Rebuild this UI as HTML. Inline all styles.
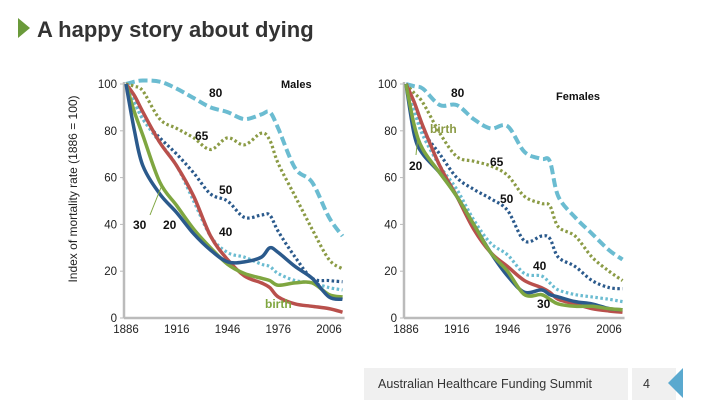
<!DOCTYPE html>
<html><head><meta charset="utf-8"><style>
body{margin:0;width:720px;height:405px;background:#fff;overflow:hidden;font-family:"Liberation Sans",sans-serif;}
svg{position:absolute;left:0;top:0}
</style></head><body>
<svg id="s" width="720" height="405">
<polygon points="18,18 30,28 18,38" fill="#6a9a3a"/>
<text x="37" y="37" font-size="22" font-weight="bold" fill="#333">A happy story about dying</text>
<text transform="translate(77,189) rotate(-90)" text-anchor="middle" font-size="12" fill="#222">Index of mortality rate (1886 = 100)</text>
<rect x="364" y="368" width="264" height="32" fill="#f0f0f0"/>
<text x="378" y="388" font-size="12.5" fill="#333">Australian Healthcare Funding Summit</text>
<rect x="632" y="368" width="44" height="32" fill="#f0f0f0"/>
<text x="643" y="388" font-size="12.5" fill="#333">4</text>
<polygon points="683,368 668,383 683,398" fill="#5aa9cf"/>
<g id="charts"></g>
</svg>
<script>
const years=[1886,1891,1896,1906,1916,1926,1936,1946,1956,1966,1971,1976,1986,1996,2006,2014];
const xTicks=[1886,1916,1946,1976,2006];
const yTicks=[0,20,40,60,80,100];
const m80=[100,101,101.5,101,98,94,90,88,85,87,88,81,64,58,43,35];
const m65=[100,99,97,85,81,77,72,77,74,79,76,66,52,38,25,21];
const m50=[100,93,85,77,70,62,53,50,43,44,44,37,26,17,16,15.5];
const m40=[100,92,85,75,65,50,35,28,26,23,22,19,16,15,13,12];
const m20=[100,80,65,53,45,36,29,24,24,26,30,28,22,17,9,8];
const m30=[100,88,78,58,48,38,30,23,19,17,16,14,15,15,10,9];
const mBirth=[100,95,88,75,65,52,35,25,18,15,13,9,6,5,4,2.5];
const f80=[100,99,98,91,91,85,81,82,71,68,67,52,43,36,29,25];
const f65=[100,96,92,79,69,67,65,61,52,49,48,39,35,26,20,16];
const f50=[100,90,80,70,60,55,51,46,33,35,34,26,22,16,13,12.5];
const f40=[100,88,78,65,55,42,32,27,19,18,15,12,10,9,8,7];
const f20=[100,78,70,62,52,40,28,18,11,12,10,9,7,6,4,3.5];
const f30=[100,82,72,62,52,40,28,20,10,10,8,6,5,5,4,3.5];
const fBirth=[100,92,82,65,52,38,28,22,16,13,11,8,6,4,3,2.5];
const NS="http://www.w3.org/2000/svg";
const root=document.getElementById('charts');
const LB="#6bbcd1",DB="#2b5a8c",OL="#8b9b45",GR="#7fa640",RD="#b9504c";
function mk(tag,at,parent){const e=document.createElementNS(NS,tag);for(const k in at)e.setAttribute(k,at[k]);parent.appendChild(e);return e;}
function path(pts){let d="M"+pts[0][0]+","+pts[0][1];for(let i=0;i<pts.length-1;i++){const p0=pts[Math.max(i-1,0)],p1=pts[i],p2=pts[i+1],p3=pts[Math.min(i+2,pts.length-1)];
d+=" C"+(p1[0]+(p2[0]-p0[0])/6)+","+(p1[1]+(p2[1]-p0[1])/6)+" "+(p2[0]-(p3[0]-p1[0])/6)+","+(p2[1]-(p3[1]-p1[1])/6)+" "+p2[0]+","+p2[1];}return d;}
function chart(x0,name,series,labels){
 const g=mk('g',{},root);
 
 
 const xs=y=>x0+(y-1886)*(203/120), ys=v=>318-v*2.34;
 const ax=mk('line',{x1:x0-2,y1:ys(0),x2:x0-2,y2:ys(100)-2,stroke:'#bbb','stroke-width':2.5},g);
 
 const bx=mk('line',{x1:x0-2,y1:ys(0),x2:xs(2014)+2,y2:ys(0),stroke:'#bbb','stroke-width':2.5},g);
 
 yTicks.forEach(v=>{const t=mk('text',{x:x0-9,y:ys(v)+4,'text-anchor':'end','font-size':11.5,fill:'#222'},g);t.textContent=v;
  
  mk('line',{x1:x0-6,x2:x0-2,y1:ys(v),y2:ys(v),stroke:'#bbb'},g);});
 xTicks.forEach(v=>{const t=mk('text',{x:xs(v),y:ys(0)+15,'text-anchor':'middle','font-size':11.5,fill:'#222'},g);t.textContent=v;
  });
 series.forEach(s=>{const p=mk('path',{d:path(years.map((y,i)=>[xs(y),ys(s.v[i])])),fill:'none',stroke:s.c,'stroke-width':s.w,'stroke-dasharray':s.d||'none','stroke-linejoin':'round'},g);
  });
 labels.forEach(l=>{const t=mk('text',{x:l[0],y:l[1],'font-size':l[3]||12,'font-weight':'bold',fill:l[2]||'#111'},g);t.textContent=l[4];
  });
}
chart(126,'males-chart',[
 {n:'line-age-80',v:m80,c:LB,w:4,d:'9,4'},{n:'line-age-65',v:m65,c:OL,w:3.2,d:'2.5,2.5'},
 {n:'line-age-50',v:m50,c:DB,w:3.2,d:'2.5,2.5'},{n:'line-age-40',v:m40,c:LB,w:3.2,d:'2.5,2.5'},
 {n:'line-birth',v:mBirth,c:RD,w:3.5},{n:'line-age-30',v:m30,c:GR,w:3.5},{n:'line-age-20',v:m20,c:DB,w:3.5}],
 [[209,97,'#111',12,'80'],[281,88,'#111',11,'Males'],[195,140,'#111',12,'65'],[219,194,'#111',12,'50'],[133,229,'#111',12,'30'],[163,229,'#111',12,'20'],[219,236,'#111',12,'40'],[265,308,GR,12,'birth']]);
chart(406,'females-chart',[
 {n:'line-age-80',v:f80,c:LB,w:4,d:'9,4'},{n:'line-age-65',v:f65,c:OL,w:3.2,d:'2.5,2.5'},
 {n:'line-age-50',v:f50,c:DB,w:3.2,d:'2.5,2.5'},{n:'line-age-40',v:f40,c:LB,w:3.2,d:'2.5,2.5'},
 {n:'line-birth',v:fBirth,c:RD,w:3.5},{n:'line-age-20',v:f20,c:DB,w:3.5},{n:'line-age-30',v:f30,c:GR,w:3.5}],
 [[451,97,'#111',12,'80'],[556,100,'#111',11,'Females'],[430,133,OL,12,'birth'],[409,170,'#111',12,'20'],[490,166,'#111',12,'65'],[500,203,'#111',12,'50'],[533,270,'#111',12,'40'],[537,308,'#111',12,'30']]);
const g2=root.lastChild;
const pt=document.createElementNS(NS,'line');
pt.setAttribute('x1',416);pt.setAttribute('y1',155);pt.setAttribute('x2',418);pt.setAttribute('y2',135);pt.setAttribute('stroke',GR);


g2.appendChild(pt);
const pm=document.createElementNS(NS,'line');
pm.setAttribute('x1',150);pm.setAttribute('y1',215);pm.setAttribute('x2',162);pm.setAttribute('y2',185);pm.setAttribute('stroke',GR);


root.firstChild.appendChild(pm);
</script>
</body></html>
